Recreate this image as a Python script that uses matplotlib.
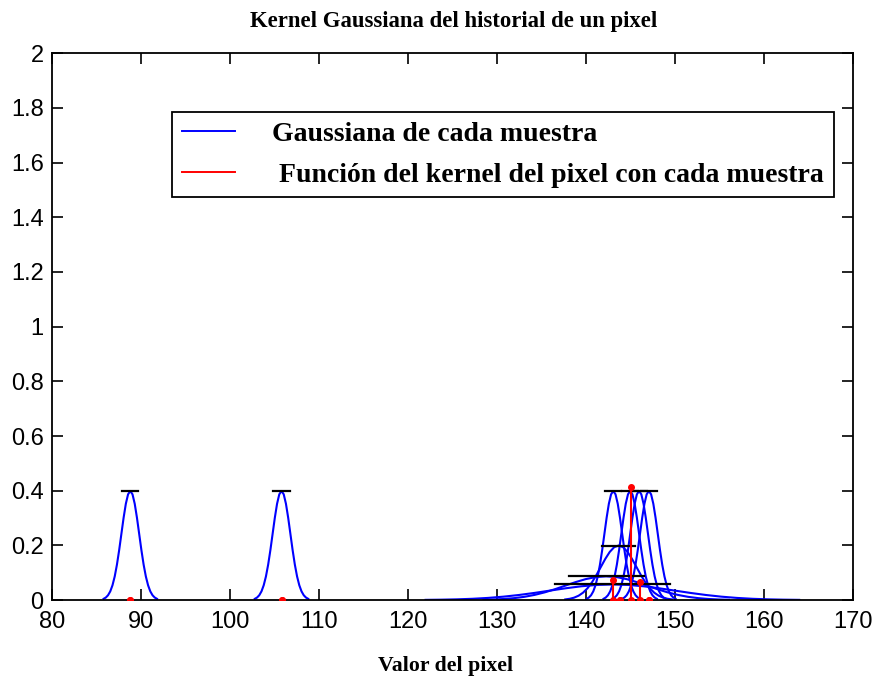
import numpy as np
import matplotlib
matplotlib.use("Agg")
import matplotlib.pyplot as plt
from matplotlib.lines import Line2D

# Samples of the pixel history: mean and sigma of each Gaussian kernel
sample_means = [88.8, 105.8, 143.1, 145.0, 146.0, 147.1, 143.7, 142.3, 143.0]
sample_sigmas = [1.0, 1.0, 1.0, 1.0, 1.0, 1.0, 2.0, 4.6, 7.0]

# Kernel function of the pixel with each sample (red stems)
kernel_x = [88.8, 105.8, 143.1, 143.8, 145.1, 146.1, 147.1]
kernel_y = [0.0, 0.0, 0.072, 0.0, 0.415, 0.065, 0.0]

x_ticks = [80, 90, 100, 110, 120, 130, 140, 150, 160, 170]
y_ticks = [0, 0.2, 0.4, 0.6, 0.8, 1, 1.2, 1.4, 1.6, 1.8, 2]
y_tick_labels = ["0", "0.2", "0.4", "0.6", "0.8", "1", "1.2", "1.4", "1.6", "1.8", "2"]

title = "Kernel Gaussiana del historial de un pixel"
xlabel = "Valor del pixel"
legend_labels = ["Gaussiana de cada muestra", " Función del kernel del pixel con cada muestra"]

tick_family = ["Liberation Sans"]
serif = ["Liberation Serif"]

fig = plt.figure(figsize=(8.74, 6.8), dpi=100)
ax = fig.add_axes([0.0595, 0.1176, 0.916, 0.804])

for mu, s in zip(sample_means, sample_sigmas):
    xs = np.linspace(mu - 3 * s, mu + 3 * s, 25)
    ys = np.exp(-0.5 * ((xs - mu) / s) ** 2) / (s * np.sqrt(2 * np.pi))
    ax.plot(xs, ys, color=(0, 0, 1), lw=1.5, zorder=2)
    peak = 1 / (s * np.sqrt(2 * np.pi))
    ax.plot([mu - 0.92 * s, mu + 0.92 * s], [peak, peak], color="black", lw=1.6, zorder=3)

for kx, ky in zip(kernel_x, kernel_y):
    ax.plot([kx, kx], [0, ky], color=(1, 0, 0), lw=1.5, zorder=4)
    ax.plot([kx], [ky], marker="o", ms=4, color=(1, 0, 0), zorder=5)
    ax.plot([kx], [0], marker="o", ms=4, color=(1, 0, 0), zorder=5)

ax.set_xlim(80, 170)
ax.set_ylim(0, 2)
ax.set_xticks(x_ticks)
ax.set_xticklabels([str(t) for t in x_ticks])
ax.set_yticks(y_ticks)
ax.set_yticklabels(y_tick_labels)
ax.tick_params(direction="in", length=8, width=1.2, top=True, right=True, labelsize=17)
ax.tick_params(axis="x", pad=8)
ax.tick_params(axis="y", pad=6)
for lab in ax.get_xticklabels() + ax.get_yticklabels():
    lab.set_family(tick_family)
for sp in ax.spines.values():
    sp.set_linewidth(1.3)

fig.text(0.519, 1 - 21 / 680, title, family=serif, fontweight="bold", fontsize=16.4,
         ha="center", va="center")
fig.text(0.510, 1 - 666 / 680, xlabel, family=serif, fontweight="bold", fontsize=15.7,
         ha="center", va="center")

handles = [Line2D([], [], color=(0, 0, 1), lw=1.4), Line2D([], [], color=(1, 0, 0), lw=1.4)]
leg = ax.legend(handles, legend_labels, loc="upper left", bbox_to_anchor=(0.150, 0.893),
                borderaxespad=0,
                prop={"family": serif, "weight": "bold", "size": 20},
                frameon=True, fancybox=False, edgecolor="black", framealpha=1,
                handlelength=1.9, handletextpad=1.35, borderpad=0.35, labelspacing=0.55)
leg.get_frame().set_linewidth(1.3)

fig.savefig("out.png", dpi=100)
